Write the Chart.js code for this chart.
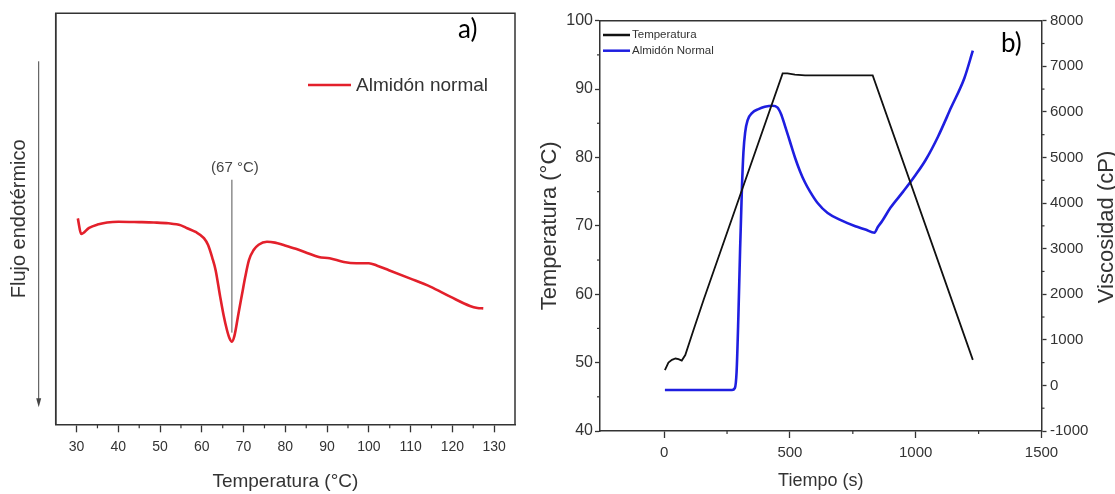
<!DOCTYPE html>
<html>
<head>
<meta charset="utf-8">
<script src="https://cdn.jsdelivr.net/npm/chart.js@4.4.0/dist/chart.umd.min.js"></script>
<style>
    html, body { margin: 0; padding: 0; background: #fff; overflow: hidden; }
    #wrapA { position: absolute; left: 0; top: 0; width: 540px; height: 494px; }
    #wrapB { position: absolute; left: 525px; top: 0; width: 590px; height: 494px; }
</style>
</head>
<body>
<div id="wrapA"><canvas id="dscChart"></canvas></div>
<div id="wrapB"><canvas id="rviChart"></canvas></div>
<script>
// ---------------- DATA ----------------

// a) DSC curve (heat flow in arbitrary units, read off the picture)
const dscTemp = [30.3, 31.1, 33, 35, 37.3, 40, 45, 48.5, 52, 55, 56.5, 58.5, 60.5, 61.5, 62.5, 63.3, 64.4, 65.2,
    66.0, 66.6, 67.2, 67.8, 68.8, 69.6, 70.4, 71.3, 72.4, 73.6, 75.6, 77.5, 79.6, 82.5, 85.2, 88, 90.6, 94, 97,
    100, 102, 104.8, 109.8, 114.7, 119.6, 124.2, 126, 127.4];
const dscFlow = [50.1, 46.3, 47.8, 48.6, 49.1, 49.3, 49.2, 49.1, 48.9, 48.4, 47.7, 46.8, 45.3, 43.6, 40.5, 37.5, 31.0, 26.6,
    23.0, 21.0, 20.1, 21.5, 27.1, 31.5, 35.9, 40.0, 42.4, 43.7, 44.4, 44.2, 43.6, 42.7, 41.7, 40.7, 40.4, 39.5, 39.2,
    39.2, 38.6, 37.5, 35.5, 33.5, 31.0, 28.8, 28.3, 28.2];
const dscTicks = [30, 40, 50, 60, 70, 80, 90, 100, 110, 120, 130];
const peakTemp = 67.2;
const peakLine = [22.3, 59.5];
const peakLabel = "(67 °C)";

// b) RVA profile
const tempTime = [3, 17, 31, 45, 57, 70, 84, 117, 157, 471, 490, 520, 560, 829, 1227];
const tempValue = [48.9, 50.0, 50.4, 50.6, 50.5, 50.3, 51.1, 54.8, 59.2, 92.3, 92.3, 92.1, 92.0, 92.0, 50.4];
const viscTime = [3, 270, 281, 288, 295, 302, 309, 315, 322, 332, 350, 375, 400, 430, 450, 465, 480, 500, 520, 540,
    560, 580, 610, 650, 700, 760, 800, 836, 850, 866, 900, 950, 1000, 1040, 1088, 1141, 1194, 1227];
const viscValue = [-100, -100, -60, 300, 1500, 3000, 4300, 5100, 5550, 5820, 5980, 6060, 6110, 6135, 6100, 5950, 5700,
    5350, 5000, 4700, 4450, 4250, 4000, 3780, 3630, 3490, 3420, 3350, 3480, 3600, 3900, 4250, 4620, 4950, 5450, 6100,
    6750, 7342];
const timeTicks = [0, 500, 1000, 1500];
const tempTicks = [40, 50, 60, 70, 80, 90, 100];
const viscTicks = [-1000, 0, 1000, 2000, 3000, 4000, 5000, 6000, 7000, 8000];

const RED = "#e3202b";
const BLUE = "#1e1ee0";
const INK = "#333";

Chart.defaults.font.family = "'Liberation Sans', Arial, sans-serif";
Chart.defaults.color = INK;

function pairs(xs, ys) {
    return xs.map((x, i) => ({ x: x, y: ys[i] }));
}

function midpoints(ticks) {
    const out = [];
    for (let i = 0; i < ticks.length - 1; i++) out.push((ticks[i] + ticks[i + 1]) / 2);
    return out;
}

function setTicks(list) {
    return scale => { scale.ticks = list.map(v => ({ value: v })); };
}

const plain = v => String(v);

function minorTicks(ctx, scale, values, len, side) {
    ctx.save();
    ctx.strokeStyle = INK;
    ctx.lineWidth = 1.2;
    values.forEach(v => {
        const p = scale.getPixelForValue(v);
        ctx.beginPath();
        if (side === "bottom") { ctx.moveTo(p, scale.top); ctx.lineTo(p, scale.top + len); }
        if (side === "left") { ctx.moveTo(scale.right, p); ctx.lineTo(scale.right - len, p); }
        if (side === "right") { ctx.moveTo(scale.left, p); ctx.lineTo(scale.left + len, p); }
        ctx.stroke();
    });
    ctx.restore();
}


// ---------------- a) DSC ----------------

const dscDecor = {
    id: "dscDecor",
    afterDraw(chart) {
        const ctx = chart.ctx;
        const a = chart.chartArea;
        const x = chart.scales.x;
        const y = chart.scales.y;

        ctx.save();
        // frame
        ctx.strokeStyle = INK;
        ctx.lineWidth = 1.5;
        ctx.beginPath();
        ctx.moveTo(a.left, a.bottom);
        ctx.lineTo(a.left, a.top);
        ctx.lineTo(a.right, a.top);
        ctx.lineTo(a.right, a.bottom);
        ctx.stroke();

        minorTicks(ctx, x, midpoints(dscTicks), 4, "bottom");

        // endothermic arrow
        const ax = a.left - 17;
        ctx.strokeStyle = "#444";
        ctx.lineWidth = 1;
        ctx.beginPath();
        ctx.moveTo(ax, a.top + 48);
        ctx.lineTo(ax, a.bottom - 22);
        ctx.stroke();
        ctx.fillStyle = "#444";
        ctx.beginPath();
        ctx.moveTo(ax - 2.5, a.bottom - 26);
        ctx.lineTo(ax + 2.5, a.bottom - 26);
        ctx.lineTo(ax, a.bottom - 17);
        ctx.closePath();
        ctx.fill();

        // peak label
        ctx.fillStyle = "#444";
        ctx.font = "15px 'Liberation Sans', Arial, sans-serif";
        ctx.textAlign = "center";
        ctx.textBaseline = "middle";
        ctx.fillText(peakLabel, x.getPixelForValue(peakTemp) + 3, y.getPixelForValue(peakLine[1]) - 12);

        // legend
        ctx.strokeStyle = RED;
        ctx.lineWidth = 2.6;
        ctx.beginPath();
        ctx.moveTo(308, 85);
        ctx.lineTo(351, 85);
        ctx.stroke();
        ctx.fillStyle = INK;
        ctx.font = "19px 'Liberation Sans', Arial, sans-serif";
        ctx.textAlign = "left";
        ctx.fillText(chart.data.datasets[0].label, 356, 86);

        // panel letter
        ctx.fillStyle = "#000";
        ctx.font = "26px Lato, 'Open Sans', sans-serif";
        ctx.fillText("a)", 458, 30);
        ctx.restore();
    }
};

new Chart(document.getElementById("dscChart"), {
    type: "scatter",
    data: {
        datasets: [
            {
                label: "Almidón normal",
                data: pairs(dscTemp, dscFlow),
                showLine: true,
                borderColor: RED,
                borderWidth: 2.6,
                pointRadius: 0,
                cubicInterpolationMode: "monotone"
            },
            {
                label: "peak",
                data: pairs([peakTemp, peakTemp], peakLine),
                showLine: true,
                borderColor: "#555",
                borderWidth: 1,
                pointRadius: 0
            }
        ]
    },
    options: {
        responsive: true,
        maintainAspectRatio: false,
        animation: false,
        layout: { padding: { top: 13.3, right: 25, left: 0, bottom: 0 } },
        plugins: { legend: { display: false }, tooltip: { enabled: false } },
        scales: {
            x: {
                type: "linear",
                min: 25,
                max: 135,
                afterBuildTicks: setTicks(dscTicks),
                afterFit: s => { s.height = 69.7; },
                ticks: { color: INK, font: { size: 14 }, padding: 6, maxRotation: 0, callback: plain },
                grid: { drawOnChartArea: false, tickLength: 8, tickColor: INK, tickWidth: 1.3 },
                border: { color: INK, width: 1.5 },
                title: {
                    display: true, text: "Temperatura (°C)", color: INK,
                    font: { size: 19 }, padding: { top: 0, bottom: 1 }
                }
            },
            y: {
                min: 0,
                max: 100,
                afterFit: s => { s.width = 55.7; },
                ticks: { display: false },
                grid: { drawOnChartArea: false, drawTicks: false },
                border: { color: INK, width: 1.5 },
                title: {
                    display: true, text: "Flujo endotérmico", color: INK,
                    font: { size: 20 }, padding: { top: 7, bottom: 0 }
                }
            }
        }
    },
    plugins: [dscDecor]
});


// ---------------- b) RVA ----------------

const rviDecor = {
    id: "rviDecor",
    afterDraw(chart) {
        const ctx = chart.ctx;
        const a = chart.chartArea;

        ctx.save();
        ctx.strokeStyle = INK;
        ctx.lineWidth = 1.5;
        ctx.beginPath();
        ctx.moveTo(a.left, a.top);
        ctx.lineTo(a.right, a.top);
        ctx.stroke();

        minorTicks(ctx, chart.scales.x, midpoints(timeTicks), 3, "bottom");
        minorTicks(ctx, chart.scales.y, midpoints(tempTicks), 3, "left");
        minorTicks(ctx, chart.scales.y1, midpoints(viscTicks), 3, "right");

        // legend
        ctx.font = "11.5px 'Liberation Sans', Arial, sans-serif";
        ctx.textAlign = "left";
        ctx.textBaseline = "middle";
        chart.data.datasets.forEach((ds, i) => {
            const ly = 35 + i * 15.7;
            ctx.strokeStyle = ds.borderColor;
            ctx.lineWidth = 2.5;
            ctx.beginPath();
            ctx.moveTo(a.left + 3, ly);
            ctx.lineTo(a.left + 30, ly);
            ctx.stroke();
            ctx.fillStyle = INK;
            ctx.fillText(ds.label, a.left + 32, ly);
        });

        // right axis title, read bottom to top
        ctx.translate(581.5, 227);
        ctx.rotate(-Math.PI / 2);
        ctx.fillStyle = INK;
        ctx.font = "22px 'Liberation Sans', Arial, sans-serif";
        ctx.textAlign = "center";
        ctx.fillText("Viscosidad (cP)", 0, 0);
        ctx.restore();

        ctx.save();
        ctx.fillStyle = "#000";
        ctx.font = "26px Lato, 'Open Sans', sans-serif";
        ctx.textBaseline = "middle";
        ctx.fillText("b)", 476, 44);
        ctx.restore();
    }
};

new Chart(document.getElementById("rviChart"), {
    type: "scatter",
    data: {
        datasets: [
            {
                label: "Temperatura",
                data: pairs(tempTime, tempValue),
                showLine: true,
                borderColor: "#111",
                borderWidth: 1.8,
                pointRadius: 0,
                yAxisID: "y"
            },
            {
                label: "Almidón Normal",
                data: pairs(viscTime, viscValue),
                showLine: true,
                borderColor: BLUE,
                borderWidth: 2.6,
                pointRadius: 0,
                cubicInterpolationMode: "monotone",
                yAxisID: "y1"
            }
        ]
    },
    options: {
        responsive: true,
        maintainAspectRatio: false,
        animation: false,
        layout: { padding: { top: 20.7, right: 0, left: 0, bottom: 0 } },
        plugins: { legend: { display: false }, tooltip: { enabled: false } },
        scales: {
            x: {
                type: "linear",
                min: -255,
                max: 1500,
                afterBuildTicks: setTicks(timeTicks),
                afterFit: s => { s.height = 63; },
                ticks: { color: INK, font: { size: 15 }, padding: 6, maxRotation: 0, callback: plain },
                grid: { drawOnChartArea: false, tickLength: 7, tickColor: INK, tickWidth: 1.3 },
                border: { color: INK, width: 1.5 },
                title: {
                    display: true, text: "Tiempo (s)", color: INK,
                    font: { size: 18 }, padding: { top: 0, bottom: 2 }
                }
            },
            y: {
                position: "left",
                min: 40,
                max: 100,
                afterBuildTicks: setTicks(tempTicks),
                afterFit: s => { s.width = 75; },
                ticks: { color: INK, font: { size: 16 }, padding: 2, callback: plain },
                grid: { drawOnChartArea: false, tickLength: 5, tickColor: INK, tickWidth: 1.3 },
                border: { color: INK, width: 1.5 },
                title: {
                    display: true, text: "Temperatura (°C)", color: INK,
                    font: { size: 22 }, padding: { top: 11.8, bottom: 0 }
                }
            },
            y1: {
                position: "right",
                min: -1000,
                max: 8000,
                afterBuildTicks: setTicks(viscTicks),
                afterFit: s => { s.width = 73.5; },
                ticks: { color: INK, font: { size: 15 }, padding: 3.5, callback: plain },
                grid: { drawOnChartArea: false, tickLength: 5, tickColor: INK, tickWidth: 1.3 },
                border: { color: INK, width: 1.5 }
            }
        }
    },
    plugins: [rviDecor]
});
</script>
</body>
</html>
